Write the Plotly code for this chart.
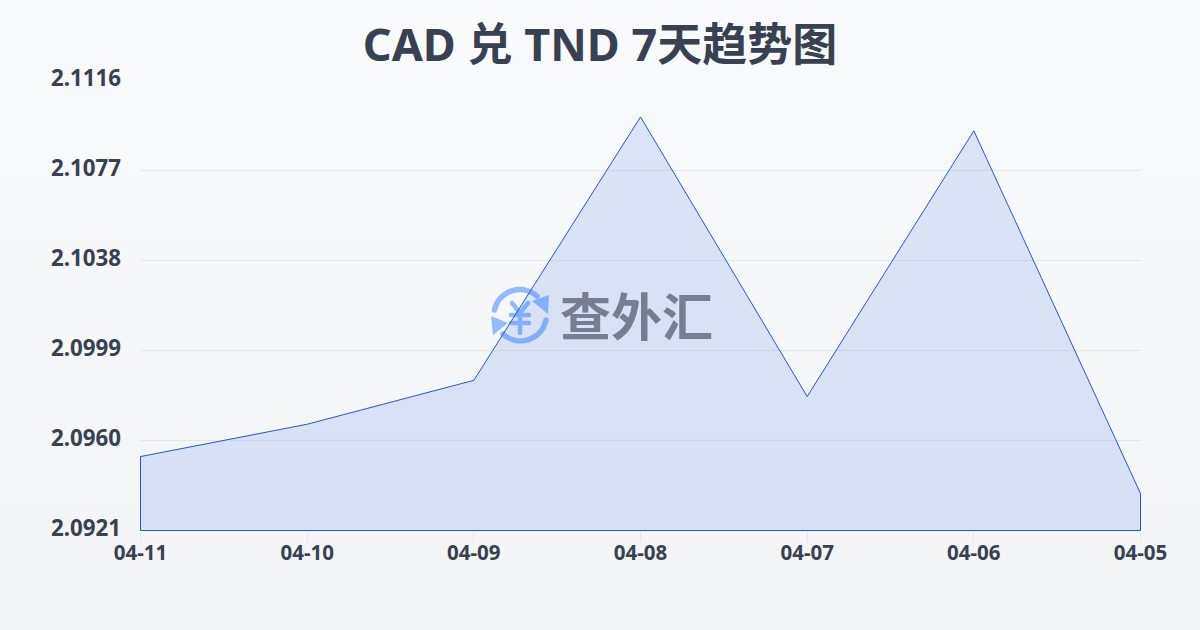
import base64
import plotly.graph_objects as go

dates = ["04-11", "04-10", "04-09", "04-08", "04-07", "04-06", "04-05"]
rates = [2.0953, 2.0967, 2.0986, 2.1100, 2.0979, 2.1094, 2.0937]
y_ticks = [2.0921, 2.0960, 2.0999, 2.1038, 2.1077, 2.1116]
y_labels = ["2.0921", "2.0960", "2.0999", "2.1038", "2.1077", "2.1116"]
title_text = "CAD 兑 TND 7天趋势图"
brand = "查外汇"

W, H = 1200, 630
L, R, T, B = 140, 1141, 80, 531
PW, PH = R - L, B - T
X_PAD = 0.003       # half a pixel of category axis, keeps the closing edges crisp
Y_PAD = 0.0000217   # half a pixel of value axis


def uri(svg):
    return "data:image/svg+xml;base64," + base64.b64encode(svg.encode()).decode()


bg_svg = (
    '<svg xmlns="http://www.w3.org/2000/svg" width="1200" height="630" preserveAspectRatio="none">'
    '<defs><linearGradient id="g" x1="0" y1="0" x2="0" y2="1">'
    '<stop offset="0" stop-color="#f9fafb"/><stop offset="1" stop-color="#f3f4f6"/>'
    '</linearGradient></defs><rect width="1200" height="630" fill="url(#g)"/></svg>'
)
icon_svg = (
    '<svg xmlns="http://www.w3.org/2000/svg" viewBox="0 0 58 58" width="232" height="232">'
    '<g fill="none" stroke="#93bbfd" stroke-linecap="round">'
    '<path d="M3.5 24 A26 26 0 0 1 46 10" stroke-width="5.5"/>'
    '<path d="M55 34 A26 26 0 0 1 12 48" stroke-width="5.5"/>'
    '<path d="M21 17 L29 27 L37 17 M20 29 H38 M20 37 H38 M29 27 V47" stroke-width="4.5"/>'
    '</g>'
    '<path d="M41 15 L58 9 L57 28 Z" fill="#93bbfd"/>'
    '<path d="M0 30 L17 37 L2 49 Z" fill="#93bbfd"/>'
    '</svg>'
)

n = len(dates)
closed_x = dates + [dates[-1], dates[0], dates[0]]
closed_y = rates + [y_ticks[0], y_ticks[0], rates[0]]

fig = go.Figure(
    go.Scatter(
        x=closed_x,
        y=closed_y,
        mode="lines",
        fill="toself",
        fillcolor="rgba(33,88,225,0.135)",
        line=dict(color="#1f58d4", width=1),
        cliponaxis=False,
        hoverinfo="skip",
    )
)

fig.update_layout(
    width=W,
    height=H,
    autosize=False,
    showlegend=False,
    paper_bgcolor="#f6f7f9",
    plot_bgcolor="rgba(0,0,0,0)",
    margin=dict(l=L, r=W - R, t=T, b=H - B, pad=0),
    title=dict(
        text=title_text,
        x=600 / W,
        xanchor="center",
        y=1 - 45 / H,
        yanchor="middle",
        font=dict(family="Noto Sans, Noto Sans CJK SC", size=45, color="#374151", weight="bold"),
    ),
    xaxis=dict(
        type="category",
        categoryorder="array",
        categoryarray=dates,
        range=[-X_PAD, n - 1 + X_PAD],
        showgrid=False,
        zeroline=False,
        showline=False,
        ticks="outside",
        ticklen=10,
        tickwidth=1,
        tickcolor="#e5e7eb",
        ticklabelstandoff=-7,
        tickfont=dict(family="Noto Sans", size=20.5, color="#374151", weight="bold"),
    ),
    yaxis=dict(
        range=[y_ticks[0] - Y_PAD, y_ticks[-1]],
        tickmode="array",
        tickvals=y_ticks,
        ticktext=y_labels,
        showgrid=True,
        gridcolor="#e5e7eb",
        gridwidth=1,
        zeroline=False,
        showline=False,
        ticks="",
        ticklabelstandoff=18,
        ticklabelshift=-2,
        tickfont=dict(family="Noto Sans", size=22.3, color="#374151", weight="bold"),
    ),
    images=[
        dict(
            source=uri(bg_svg), xref="paper", yref="paper", layer="below",
            x=-L / PW, y=1 + T / PH, sizex=W / PW, sizey=H / PH,
            xanchor="left", yanchor="top", sizing="stretch",
        ),
        dict(
            source=uri(icon_svg), xref="paper", yref="paper", layer="below",
            x=(491 - L) / PW, y=(B - 286) / PH, sizex=58 / PW, sizey=58 / PH,
            xanchor="left", yanchor="top", sizing="stretch",
        ),
    ],
    annotations=[
        dict(
            text=brand, xref="paper", yref="paper", showarrow=False,
            x=(636 - L) / PW, y=(B - 314) / PH, xanchor="center", yanchor="middle",
            font=dict(family="Noto Sans CJK SC", size=51, color="#767e90", weight="bold"),
        )
    ],
)

fig.write_html(
    "out.html",
    config={"displayModeBar": False},
    post_script="document.body.style.margin='0';document.documentElement.style.background='#f6f7f9';",
)
